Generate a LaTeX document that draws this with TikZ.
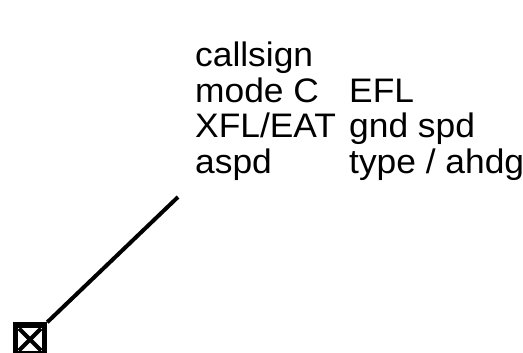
\documentclass[tikz,border=0pt]{standalone}
\usepackage{fontspec}
\setmainfont{Liberation Sans}[FakeStretch=1.04]
\begin{document}
\begin{tikzpicture}[x=1pt,y=-1pt,
  lbl/.style={anchor=base west,inner sep=0pt,font=\fontsize{34}{36}\selectfont},
  lead/.style={line width=4pt},
  sym/.style={draw,line width=5.5pt,minimum width=29pt,minimum height=29pt,inner sep=0pt}]
\useasboundingbox (0,0) rectangle (523,353);
\node[lbl] (c1) at (195,67) {callsign};
\node[lbl] (c2) at (195,102.5) {mode C};
\node[lbl] (c3) at (195,138) {XFL/EAT};
\node[lbl] (c4) at (195,173.5) {aspd};
\node[lbl] (d2) at (349,102.5) {EFL};
\node[lbl] (d3) at (349,138) {gnd spd};
\node[lbl] (d4) at (349,173.5) {type / ahdg};
\coordinate (lt) at (178,197);
\node[sym] (box) at (30,339.5) {};
\draw[line width=4pt] (box.center) ++(-11,-11) -- ++(22,22);
\draw[line width=4pt] (box.center) ++(11,-11) -- ++(-22,22);
\draw[lead] (lt) -- (box.north east);
\end{tikzpicture}
\end{document}
